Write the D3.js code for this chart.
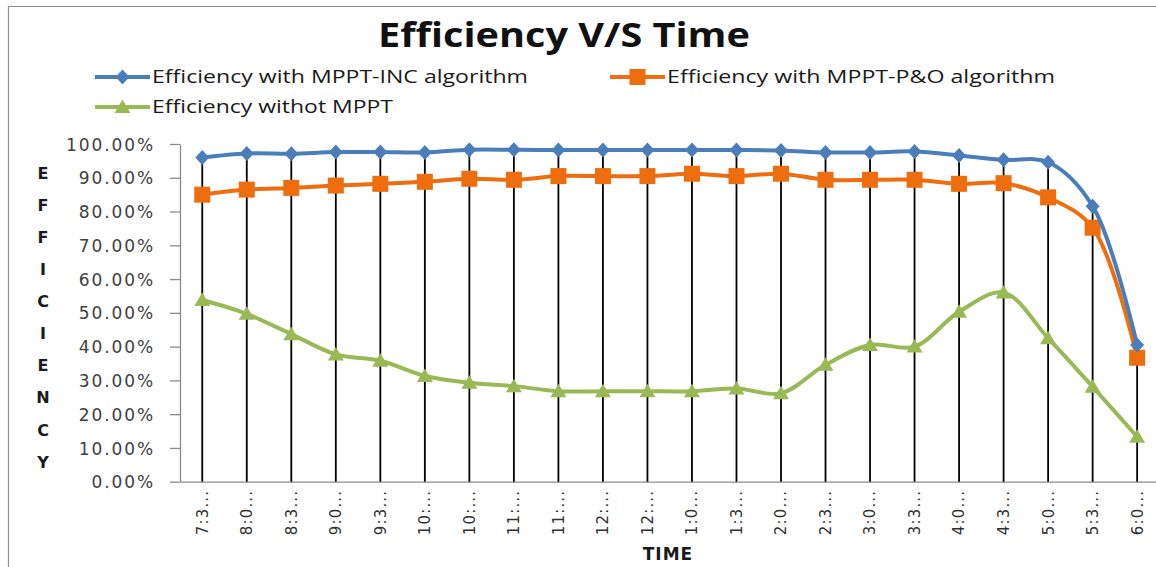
<!DOCTYPE html>
<html>
<head>
<meta charset="utf-8">
<script src="https://cdn.jsdelivr.net/npm/d3@7/dist/d3.min.js"></script>
<style>
  html, body { margin: 0; padding: 0; background: #fff; }
  svg { display: block; }
</style>
</head>
<body>
<svg id="chart" width="1156" height="567"></svg>
<script>
// Half-hourly readings from 7:30 to 6:00
const times = ["7:30","8:00","8:30","9:00","9:30","10:00","10:30","11:00","11:30","12:00","12:30",
               "1:00","1:30","2:00","2:30","3:00","3:30","4:00","4:30","5:00","5:30","6:00"];

// Efficiency with the incremental-conductance MPPT
const incEff = [0.960, 0.972, 0.971, 0.976, 0.976, 0.975, 0.983, 0.983, 0.982, 0.982, 0.982,
                0.982, 0.982, 0.981, 0.975, 0.975, 0.978, 0.966, 0.953, 0.946, 0.816, 0.405];

// Efficiency with the perturb & observe MPPT
const poEff = [0.850, 0.865, 0.870, 0.877, 0.882, 0.888, 0.897, 0.894, 0.905, 0.905, 0.905,
               0.912, 0.905, 0.912, 0.894, 0.894, 0.894, 0.882, 0.884, 0.842, 0.752, 0.367];

// Efficiency without any tracking
const noEff = [0.538, 0.497, 0.437, 0.377, 0.358, 0.313, 0.293, 0.283, 0.268, 0.268, 0.268,
               0.268, 0.276, 0.262, 0.346, 0.405, 0.400, 0.503, 0.560, 0.425, 0.281, 0.133];

const yTicks = [0, 0.1, 0.2, 0.3, 0.4, 0.5, 0.6, 0.7, 0.8, 0.9, 1.0];

const seriesNames = ["Efficiency with MPPT-INC algorithm",
                     "Efficiency with MPPT-P&O algorithm",
                     "Efficiency withot MPPT"];

const series = [
  { name: seriesNames[0], values: incEff, color: "#4A7EBB", marker: "diamond" },
  { name: seriesNames[1], values: poEff,  color: "#EE6D0E", marker: "square" },
  { name: seriesNames[2], values: noEff,  color: "#98B954", marker: "triangle" }
];

const svg = d3.select("#chart");

// outer chart frame
svg.append("path")
  .attr("d", "M8.5,567 L8.5,6.5 L1156,6.5")
  .attr("fill", "none").attr("stroke", "#8c8c8c").attr("stroke-width", 1.2);

const x = d3.scaleBand().domain(times).range([180, 1159.4]);
const y = d3.scaleLinear().domain([0, 1]).range([481.7, 144]);
const cx = d => x(d) + x.bandwidth() / 2;

// ---- marker shapes ----
function markerPath(kind) {
  if (kind === "diamond") return "M0,-7.5 L7,0 L0,7.5 L-7,0 Z";
  if (kind === "square") return "M-8,-8 L8,-8 L8,8 L-8,8 Z";
  return "M0,-7.5 L8,6 L-8,6 Z";
}

// ---- y axis ----
const yAxis = d3.axisLeft(y).tickValues(yTicks).tickSize(10).tickSizeOuter(0)
  .tickFormat(d3.format(".2%"));
const gy = svg.append("g").attr("transform", "translate(180,0)").call(yAxis);
gy.select(".domain").attr("stroke", "#8c8c8c").attr("stroke-width", 1.3);
gy.selectAll(".tick line").attr("stroke", "#8c8c8c").attr("stroke-width", 1.3);
gy.selectAll(".tick text")
  .attr("x", -25).attr("dy", "0.36em")
  .attr("fill", "#404040")
  .style("font-family", "'DejaVu Sans', Verdana, sans-serif")
  .style("font-size", "17px")
  .style("letter-spacing", "1.9px");

// ---- x axis ----
const xAxis = d3.axisBottom(x).tickSize(0).tickSizeOuter(0)
  .tickFormat(t => t.slice(0, 3) + "...");
const gx = svg.append("g").attr("transform", "translate(0,481.7)").call(xAxis);
gx.select(".domain").attr("stroke", "#8c8c8c").attr("stroke-width", 1.3);
gx.selectAll(".tick text")
  .attr("transform", "translate(0,8) rotate(-90)")
  .attr("x", 0).attr("y", 0).attr("dy", "0.36em")
  .attr("text-anchor", "end")
  .attr("fill", "#303030")
  .style("font-family", "'DejaVu Sans', Verdana, sans-serif")
  .style("font-size", "15px")
  .style("letter-spacing", "1.2px");

// ---- drop lines from the highest series down to the axis ----
svg.append("g").selectAll("line").data(times).join("line")
  .attr("x1", d => cx(d)).attr("x2", d => cx(d))
  .attr("y1", (d, i) => y(d3.max(series, s => s.values[i])))
  .attr("y2", y(0))
  .attr("stroke", "#000").attr("stroke-width", 1.8);

// ---- series lines and markers ----
const line = d3.line()
  .x((d, i) => cx(times[i]))
  .y(d => y(d))
  .curve(d3.curveCatmullRom.alpha(0.5));

series.slice().reverse().forEach(s => {
  const g = svg.append("g");
  g.append("path").attr("d", line(s.values))
    .attr("fill", "none").attr("stroke", s.color)
    .attr("stroke-width", 4).attr("stroke-linejoin", "round");
  g.selectAll("path.m").data(s.values).join("path").attr("class", "m")
    .attr("d", markerPath(s.marker))
    .attr("transform", (d, i) => `translate(${cx(times[i])},${y(d)})`)
    .attr("fill", s.color);
});

// ---- title ----
const fitText = (sel, width) => {
  sel.attr("textLength", width).attr("lengthAdjust", "spacingAndGlyphs");
};
svg.append("text")
  .attr("x", 378).attr("y", 47)
  .style("font-family", "'Open Sans', 'Liberation Sans', sans-serif")
  .style("font-weight", "bold").style("font-size", "34px")
  .attr("fill", "#111")
  .text("Efficiency V/S Time")
  .call(fitText, 372);

// ---- legend ----
const legendItems = [
  { s: series[0], x: 95,  y: 77,  w: 376 },
  { s: series[1], x: 610, y: 77,  w: 388 },
  { s: series[2], x: 95,  y: 107, w: 241 }
];
legendItems.forEach(it => {
  const g = svg.append("g").attr("transform", `translate(${it.x},${it.y})`);
  g.append("line").attr("x1", 0).attr("x2", 55).attr("y1", 0).attr("y2", 0)
    .attr("stroke", it.s.color).attr("stroke-width", 4);
  g.append("path").attr("d", markerPath(it.s.marker))
    .attr("transform", "translate(27.5,0)").attr("fill", it.s.color);
  g.append("text").attr("x", 57).attr("y", 0).attr("dy", "0.36em")
    .style("font-family", "'Open Sans', 'Liberation Sans', sans-serif")
    .style("font-size", "18px").attr("fill", "#1a1a1a")
    .text(it.s.name)
    .call(fitText, it.w);
});

// ---- axis titles ----
svg.append("text")
  .attr("x", 668).attr("y", 554).attr("dy", "0.36em")
  .attr("text-anchor", "middle")
  .style("font-family", "'DejaVu Sans', Verdana, sans-serif")
  .style("font-weight", "bold").style("font-size", "17px")
  .style("letter-spacing", "1px")
  .attr("fill", "#1a1a1a")
  .text("TIME");

const yTitle = "EFFICIENCY".split("");
svg.append("g").selectAll("text").data(yTitle).join("text")
  .attr("x", 43).attr("y", (d, i) => 173 + i * 32.1).attr("dy", "0.36em")
  .attr("text-anchor", "middle")
  .style("font-family", "'DejaVu Sans', Verdana, sans-serif")
  .style("font-weight", "bold").style("font-size", "16px")
  .attr("fill", "#1a1a1a")
  .text(d => d);
</script>
</body>
</html>
